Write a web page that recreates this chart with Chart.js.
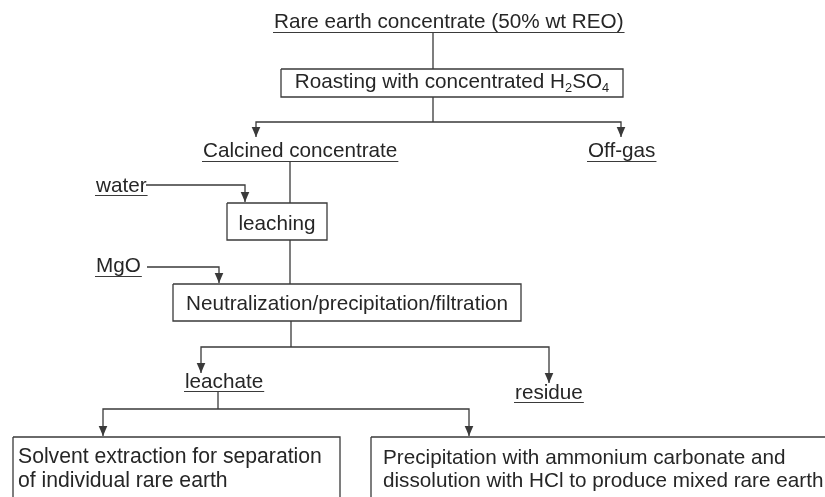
<!DOCTYPE html>
<html><head><meta charset="utf-8">
<script src="https://cdn.jsdelivr.net/npm/chart.js@4"></script>
<style>html,body{margin:0;padding:0;background:#fff;overflow:hidden}canvas{display:block}</style>
</head><body>
<canvas id="c" width="825" height="497"></canvas>
<script>
// ---------- data (flowchart content) ----------
const stepLabels = [
  'Rare earth concentrate (50% wt REO)',
  'Roasting with concentrated H_2SO_4',
  'Calcined concentrate',
  'Off-gas',
  'water',
  'leaching',
  'MgO',
  'Neutralization/precipitation/filtration',
  'leachate',
  'residue',
  'Solvent extraction for separation\nof individual rare earth',
  'Precipitation with ammonium carbonate and\ndissolution with HCl to produce mixed rare earth'
];
const stepKinds = ['stream','process','stream','stream','stream','process','stream','process','stream','stream','process','process'];

// ---------- layout (chart coordinates: x 0-825, y 0-497 downward) ----------
const nodeLayout = [
  {x:274, y:28, ul:32},
  {box:[281,69,623,97], y:87.5, align:'center'},
  {x:203, y:156.5, ul:161},
  {x:588, y:156.5, ul:161},
  {x:96, y:192, ul:195},
  {box:[227,203,327,240], y:230, align:'center'},
  {x:96, y:272, ul:276},
  {box:[173,284,521,321], y:310, align:'center'},
  {x:185, y:387.5, ul:391},
  {x:515, y:398.5, ul:402},
  {box:[13,437,340,515], x:18, y:463, lh:24, size:21.2},
  {box:[371,437,827,515], x:383, y:464, lh:23, size:20.7}
];
const connectorPaths = [
  [[433,32],[433,69]],
  [[433,97],[433,122]],
  [[256,137],[256,122],[621,122],[621,137]],
  [[290,161],[290,203]],
  [[146,185],[245,185],[245,202]],
  [[290,240],[290,284]],
  [[147,267],[219,267],[219,283]],
  [[291,321],[291,347]],
  [[201,373],[201,347],[549,347],[549,383]],
  [[218,391],[218,409]],
  [[103,436],[103,409],[469,409],[469,436]]
];
const arrowTips = [[256,137],[621,137],[245,202],[219,283],[201,373],[549,383],[103,436],[469,436]];

const LINE = '#3a3a3a', TEXT = '#262626', FONT = '"Liberation Sans", Arial, sans-serif', BASE = 20.7;

function rectPath(b){ return [[b[0],b[1]],[b[2],b[1]],[b[2],b[3]],[b[0],b[3]],[b[0],b[1]]]; }
const datasets = [];
connectorPaths.forEach(p => datasets.push({data:p.map(([x,y])=>({x,y}))}));
nodeLayout.forEach((n,i) => { if (stepKinds[i]==='process') datasets.push({data:rectPath(n.box).map(([x,y])=>({x,y}))}); });
datasets.forEach(d => Object.assign(d, {showLine:true, pointRadius:0, borderColor:LINE, borderWidth:1.3, fill:false, tension:0, borderJoinStyle:'miter', clip:false}));

function drawRich(ctx, str, x, y, size, align){
  const segs = [];
  const re = /_(\d)/g; let last = 0, m;
  while ((m = re.exec(str))) { if (m.index>last) segs.push({t:str.slice(last,m.index),sub:false}); segs.push({t:m[1],sub:true}); last = re.lastIndex; }
  if (last < str.length) segs.push({t:str.slice(last),sub:false});
  const fn = s => (s.sub? (size*0.62).toFixed(2) : size.toFixed(2)) + 'px ' + FONT;
  let w = 0; segs.forEach(s => { ctx.font = fn(s); s.w = ctx.measureText(s.t).width; w += s.w; });
  let cx = align==='center' ? x - w/2 : x;
  segs.forEach(s => { ctx.font = fn(s); ctx.fillText(s.t, cx, y + (s.sub? size*0.22:0)); cx += s.w; });
  return {left: align==='center'? x-w/2 : x, width:w};
}

const labelPlugin = {
  id:'labels',
  afterDatasetsDraw(chart){
    const {ctx, scales:{x:sx, y:sy}} = chart;
    ctx.save();
    ctx.fillStyle = TEXT; ctx.textBaseline = 'alphabetic'; ctx.textAlign = 'left';
    stepLabels.forEach((lab,i) => {
      const n = nodeLayout[i], size = n.size || BASE;
      lab.split('\n').forEach((ln,j) => {
        let px, align = 'left';
        if (n.align==='center') { px = sx.getPixelForValue((n.box[0]+n.box[2])/2); align='center'; }
        else px = sx.getPixelForValue(n.x);
        const py = sy.getPixelForValue(n.y + j*(n.lh||0));
        const r = drawRich(ctx, ln, px, py, size, align);
        if (stepKinds[i]==='stream') {
          const uy = Math.round(sy.getPixelForValue(n.ul)) + 0.5;
          ctx.strokeStyle = LINE; ctx.lineWidth = 1.2;
          ctx.beginPath(); ctx.moveTo(r.left-1, uy); ctx.lineTo(r.left + r.width + 1, uy); ctx.stroke();
        }
      });
    });
    ctx.fillStyle = LINE;
    arrowTips.forEach(([x,y]) => {
      const px = sx.getPixelForValue(x), py = sy.getPixelForValue(y);
      ctx.beginPath(); ctx.moveTo(px, py); ctx.lineTo(px-4.3, py-10); ctx.lineTo(px+4.3, py-10); ctx.closePath(); ctx.fill();
    });
    ctx.restore();
  }
};

new Chart(document.getElementById('c'), {
  type:'scatter',
  data:{datasets},
  options:{
    responsive:false, animation:false, devicePixelRatio:1,
    layout:{padding:0},
    plugins:{legend:{display:false}, tooltip:{enabled:false}},
    events:[],
    scales:{
      x:{type:'linear', min:0, max:825, display:false},
      y:{type:'linear', min:0, max:497, reverse:true, display:false}
    }
  },
  plugins:[labelPlugin]
});
</script>
</body></html>
